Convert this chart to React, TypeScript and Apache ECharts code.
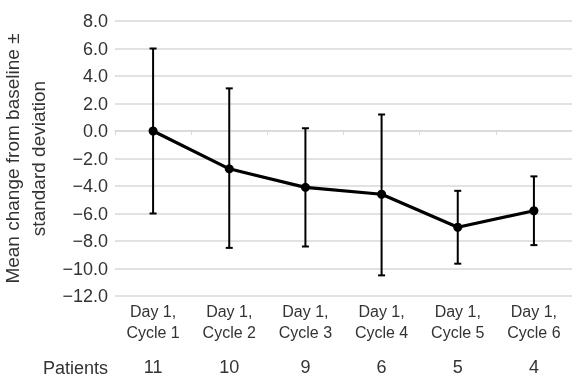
import React, { useEffect, useRef } from "react";
import * as echarts from "echarts";

const categories = ["Day 1,\nCycle 1", "Day 1,\nCycle 2", "Day 1,\nCycle 3", "Day 1,\nCycle 4", "Day 1,\nCycle 5", "Day 1,\nCycle 6"];
const meanValues = [0.0, -2.75, -4.1, -4.6, -7.0, -5.8];
const upperValues = [6.0, 3.1, 0.2, 1.2, -4.35, -3.3];
const lowerValues = [-6.0, -8.5, -8.4, -10.5, -9.65, -8.3];
const patients = ["11", "10", "9", "6", "5", "4"];
const yTicks = { min: -12, max: 8, interval: 2 };

const FONT = "'Liberation Sans', Arial, Helvetica, sans-serif";
const TEXT = "#333333";
const GRID = "#d9d9d9";

export default function App() {
  const ref = useRef<HTMLDivElement>(null);
  useEffect(() => {
    if (!ref.current) return;
    const chart = echarts.init(ref.current, null, { renderer: "svg" });
    const errData = categories.map((_, i) => [i, upperValues[i], lowerValues[i]]);
    chart.setOption({
      animation: false,
      textStyle: { fontFamily: FONT },
      grid: { left: 115, right: 0, top: 21, bottom: 81, outerBoundsMode: "none", containLabel: false },
      xAxis: [
        {
          type: "category",
          data: categories,
          boundaryGap: true,
          axisLine: { show: true, lineStyle: { color: GRID, width: 1.5 } },
          axisTick: { show: true, length: 4, lineStyle: { color: GRID, width: 1 } },
          axisLabel: { color: TEXT, fontSize: 16, lineHeight: 21, margin: 5, fontFamily: FONT },
        },
        {
          type: "category",
          data: patients,
          position: "bottom",
          offset: 62,
          axisLine: { show: false },
          axisTick: { show: false },
          axisLabel: { color: TEXT, fontSize: 18, margin: 0, fontFamily: FONT },
        },
      ],
      yAxis: {
        type: "value",
        min: yTicks.min,
        max: yTicks.max,
        interval: yTicks.interval,
        axisLine: { show: false },
        axisTick: { show: false },
        splitLine: { lineStyle: { color: GRID, width: 1.5 } },
        axisLabel: {
          color: TEXT,
          fontSize: 18,
          margin: 7,
          fontFamily: FONT,
          formatter: (v: number) => (v < 0 ? "\u2212" + Math.abs(v).toFixed(1) : v.toFixed(1)),
        },
        name: "Mean change from baseline \u00b1\nstandard deviation",
        nameLocation: "middle",
        nameGap: 59,
        nameTextStyle: { color: TEXT, fontSize: 19, lineHeight: 26, fontFamily: FONT },
      },
      graphic: [
        {
          type: "text",
          right: 464,
          top: 359,
          style: { text: "Patients", fill: TEXT, fontSize: 18, fontFamily: FONT },
        },
      ],
      series: [
        {
          type: "custom",
          xAxisIndex: 0,
          data: errData,
          encode: { x: 0, y: [1, 2] },
          z: 2,
          renderItem: (params: any, api: any) => {
            const i = api.value(0);
            const hi = api.coord([i, api.value(1)]);
            const lo = api.coord([i, api.value(2)]);
            const w = 3.5;
            const st = { stroke: "#000", lineWidth: 2 };
            return {
              type: "group",
              children: [
                { type: "line", shape: { x1: hi[0], y1: hi[1], x2: lo[0], y2: lo[1] }, style: st },
                { type: "line", shape: { x1: hi[0] - w, y1: hi[1], x2: hi[0] + w, y2: hi[1] }, style: st },
                { type: "line", shape: { x1: lo[0] - w, y1: lo[1], x2: lo[0] + w, y2: lo[1] }, style: st },
              ],
            };
          },
        },
        {
          type: "line",
          xAxisIndex: 0,
          data: meanValues,
          z: 3,
          symbol: "circle",
          symbolSize: 9,
          itemStyle: { color: "#000" },
          lineStyle: { color: "#000", width: 3.2 },
        },
      ],
    });
    return () => chart.dispose();
  }, []);
  return <div ref={ref} style={{ position: "fixed", left: 0, top: 0, width: 572, height: 377 }} />;
}
